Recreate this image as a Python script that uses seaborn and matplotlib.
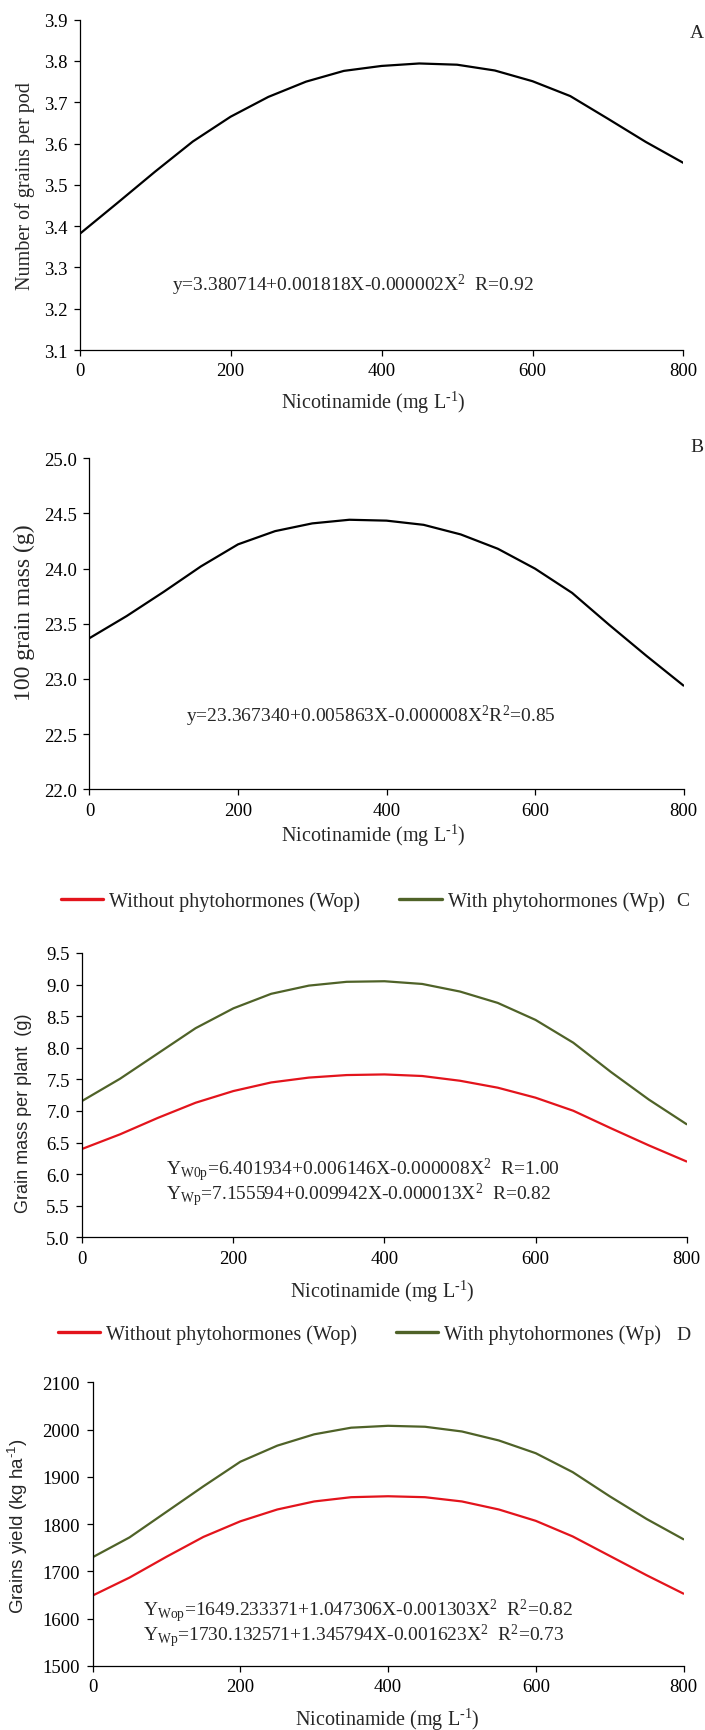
import numpy as np
import pandas as pd
import matplotlib
matplotlib.use("Agg")
import matplotlib.pyplot as plt
import seaborn as sns

# ---------------- data ----------------
dose = [0, 50, 100, 150, 200, 250, 300, 350, 400, 450, 500, 550, 600, 650, 700, 750, 800]

grains_per_pod = [3.381, 3.456, 3.532, 3.605, 3.665, 3.713, 3.750, 3.776, 3.788, 3.794,
                  3.791, 3.777, 3.751, 3.715, 3.660, 3.604, 3.553]

grain_mass_100 = [23.37, 23.57, 23.79, 24.02, 24.22, 24.34, 24.41, 24.443, 24.435, 24.397,
                  24.31, 24.18, 24.00, 23.78, 23.49, 23.21, 22.94]

mass_plant_wop = [6.40, 6.63, 6.89, 7.13, 7.315, 7.451, 7.528, 7.568, 7.578, 7.553,
                  7.478, 7.368, 7.21, 7.003, 6.725, 6.455, 6.20]
mass_plant_wp = [7.16, 7.51, 7.91, 8.31, 8.624, 8.854, 8.984, 9.044, 9.053, 9.01,
                 8.89, 8.71, 8.441, 8.08, 7.615, 7.18, 6.79]

yield_wop = [1649, 1687, 1731, 1773, 1806, 1831, 1848, 1857, 1859, 1857,
             1848, 1831, 1807, 1774, 1733, 1692, 1653]
yield_wp = [1730, 1772, 1826, 1880, 1932, 1966, 1990, 2004, 2008, 2006,
            1996, 1977, 1950, 1910, 1859, 1811, 1768]

groups = ["Without phytohormones (Wop)", "With phytohormones (Wp)"]
x_ticks = [0, 200, 400, 600, 800]
y_ticks_a = [3.1, 3.2, 3.3, 3.4, 3.5, 3.6, 3.7, 3.8, 3.9]
y_ticks_b = [22.0, 22.5, 23.0, 23.5, 24.0, 24.5, 25.0]
y_ticks_c = [5.0, 5.5, 6.0, 6.5, 7.0, 7.5, 8.0, 8.5, 9.0, 9.5]
y_ticks_d = [1500, 1600, 1700, 1800, 1900, 2000, 2100]

eq_a = "y=3.380714+0.001818X-0.000002X$^2$  R=0.92"
eq_b = "y=23.367340+0.005863X-0.000008X$^2$R$^2$=0.85"
eq_c = ["Y$_{W0p}$=6.401934+0.006146X-0.000008X$^2$  R=1.00",
        "Y$_{Wp}$=7.155594+0.009942X-0.000013X$^2$  R=0.82"]
eq_d = ["Y$_{Wop}$=1649.233371+1.047306X-0.001303X$^2$  R$^2$=0.82",
        "Y$_{Wp}$=1730.132571+1.345794X-0.001623X$^2$  R$^2$=0.73"]

xlabel = "Nicotinamide (mg L$^{\u20101}$)"
ylabel_d = "Grains yield (kg ha$^{\u20101}$)"

# ---------------- style ----------------
sns.set_style("ticks")
plt.rcParams["font.family"] = ["Liberation Serif", "DejaVu Serif"]
plt.rcParams["mathtext.fontset"] = "custom"
plt.rcParams["mathtext.rm"] = "Liberation Serif"
plt.rcParams["mathtext.it"] = "Liberation Serif:italic"
plt.rcParams["mathtext.bf"] = "Liberation Serif:bold"
plt.rcParams["mathtext.default"] = "regular"
plt.rcParams["axes.linewidth"] = 0.9
plt.rcParams["xtick.major.width"] = 0.9
plt.rcParams["ytick.major.width"] = 0.9
plt.rcParams["xtick.major.size"] = 4
plt.rcParams["ytick.major.size"] = 4
plt.rcParams["xtick.color"] = "black"
plt.rcParams["ytick.color"] = "black"
plt.rcParams["axes.edgecolor"] = "black"

RED = "#e3141c"
GREEN = "#4f6228"
LW = 1.6

W, H = 705, 1731
fig = plt.figure(figsize=(W / 100, H / 100), dpi=100)


def axes_px(left, top, right, bottom):
    return fig.add_axes([left / W, 1 - bottom / H, (right - left) / W, (bottom - top) / H])


axA = axes_px(79.6, 20.7, 683.5, 351.0)
axB = axes_px(89.5, 459.3, 683.5, 790.3)
axC = axes_px(82.3, 954.0, 686.6, 1238.3)
axD = axes_px(92.6, 1383.3, 683.5, 1667.0)

TICK_FS = 13.5
LAB_FS = 14.5
EQ_FS = 14
LEG_FS = 14.5

# ---- Panel A ----
dfA = pd.DataFrame({"dose": dose, "value": grains_per_pod})
sns.lineplot(data=dfA, x="dose", y="value", ax=axA, color="black", linewidth=LW)
axA.set_ylim(3.1, 3.9)
axA.set_yticks(y_ticks_a)
axA.set_yticklabels([f"{v:.1f}" for v in y_ticks_a])
axA.set_ylabel("Number of grains per pod", fontsize=LAB_FS)
axA.text(122, 3.26, eq_a, fontsize=EQ_FS, ha="left", va="center")

# ---- Panel B ----
dfB = pd.DataFrame({"dose": dose, "value": grain_mass_100})
sns.lineplot(data=dfB, x="dose", y="value", ax=axB, color="black", linewidth=LW)
axB.set_ylim(22.0, 25.0)
axB.set_yticks(y_ticks_b)
axB.set_yticklabels([f"{v:.1f}" for v in y_ticks_b])
axB.set_ylabel("100 grain mass (g)", fontsize=17)
axB.text(130, 22.67, eq_b, fontsize=EQ_FS, ha="left", va="center")

# ---- Panel C ----
dfC = pd.DataFrame({
    "dose": dose + dose,
    "value": mass_plant_wop + mass_plant_wp,
    "group": [groups[0]] * len(dose) + [groups[1]] * len(dose),
})
sns.lineplot(data=dfC, x="dose", y="value", hue="group", hue_order=groups,
             palette={groups[0]: RED, groups[1]: GREEN}, ax=axC, linewidth=LW)
axC.set_ylim(5.0, 9.5)
axC.set_yticks(y_ticks_c)
axC.set_yticklabels([f"{v:.1f}" for v in y_ticks_c])
axC.set_ylabel("Grain mass per plant  (g)", fontsize=13, family=["Liberation Sans", "DejaVu Sans"])
axC.text(111, 6.08, eq_c[0], fontsize=EQ_FS, ha="left", va="center")
axC.text(111, 5.68, eq_c[1], fontsize=EQ_FS, ha="left", va="center")

# ---- Panel D ----
dfD = pd.DataFrame({
    "dose": dose + dose,
    "value": yield_wop + yield_wp,
    "group": [groups[0]] * len(dose) + [groups[1]] * len(dose),
})
sns.lineplot(data=dfD, x="dose", y="value", hue="group", hue_order=groups,
             palette={groups[0]: RED, groups[1]: GREEN}, ax=axD, linewidth=LW)
axD.set_ylim(1500, 2100)
axD.set_yticks(y_ticks_d)
axD.set_yticklabels([str(v) for v in y_ticks_d])
axD.set_ylabel(ylabel_d, fontsize=13.5, family=["Liberation Sans", "DejaVu Sans"])
axD.text(68, 1617, eq_d[0], fontsize=EQ_FS, ha="left", va="center")
axD.text(68, 1565, eq_d[1], fontsize=EQ_FS, ha="left", va="center")

# ---- common axis formatting ----
xlab_pos = {axA: (0.486, -0.157), axB: (0.477, -0.138), axC: (0.496, -0.188), axD: (0.498, -0.187)}
ylab_pos = {axA: (-0.091, 0.50), axB: (-0.109, 0.536), axC: (-0.0975, 0.44), axD: (-0.126, 0.495)}
for ax in (axA, axB, axC, axD):
    ax.set_xlim(0, 800)
    ax.set_xticks(x_ticks)
    ax.set_xticklabels([str(v) for v in x_ticks])
    ax.tick_params(axis="both", labelsize=TICK_FS, direction="out", pad=5)
    ax.set_xlabel(xlabel, fontsize=LAB_FS)
    ax.xaxis.set_label_coords(*xlab_pos[ax])
    ax.xaxis.label.set_verticalalignment("center")
    ax.yaxis.set_label_coords(*ylab_pos[ax])
    ax.yaxis.label.set_verticalalignment("center")
    sns.despine(ax=ax)
    ax.grid(False)

# ---- legends ----
sns.move_legend(axC, "center left", bbox_to_anchor=(-0.0357, 1.184), ncol=2, frameon=False,
                title=None, fontsize=LEG_FS, borderpad=0, handlelength=2.1,
                handletextpad=0.3, columnspacing=1.95, borderaxespad=0)
sns.move_legend(axD, "center left", bbox_to_anchor=(-0.0594, 1.170), ncol=2, frameon=False,
                title=None, fontsize=LEG_FS, borderpad=0, handlelength=2.1,
                handletextpad=0.3, columnspacing=1.95, borderaxespad=0)
for ax in (axC, axD):
    for line in ax.get_legend().get_lines():
        line.set_linewidth(2.4)

# ---- panel letters ----
fig.text(697 / W, 1 - 33 / H, "A", fontsize=14, ha="center", va="center")
fig.text(697 / W, 1 - 447 / H, "B", fontsize=14, ha="center", va="center")
fig.text(683 / W, 1 - 901.7 / H, "C", fontsize=14, ha="center", va="center")
fig.text(683 / W, 1 - 1335 / H, "D", fontsize=14, ha="center", va="center")

fig.savefig("out.png", dpi=100)
